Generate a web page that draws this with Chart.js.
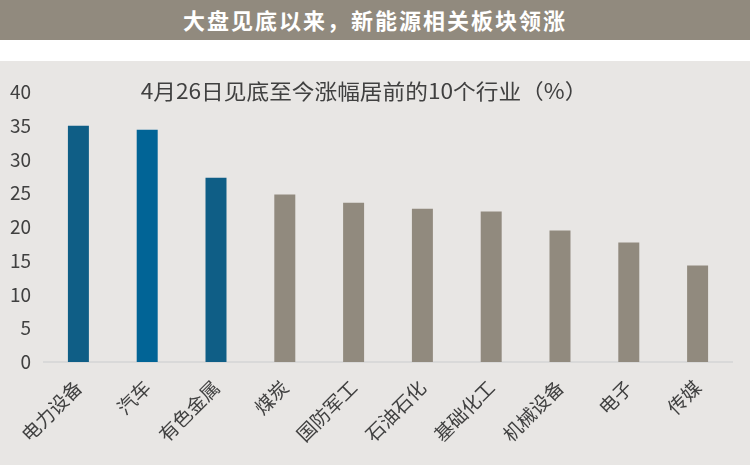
<!DOCTYPE html>
<html>
<head>
<meta charset="utf-8">
<script src="https://cdn.jsdelivr.net/npm/chart.js@4"></script>
<style>
html,body{margin:0;padding:0;background:#fff;width:750px;height:465px;overflow:hidden;}
#hdr{height:40px;background:#918a7e;color:#fff;font-family:"Noto Sans CJK SC",sans-serif;font-size:22px;font-weight:bold;line-height:38px;text-align:center;letter-spacing:2px;}
#gap{height:21px;background:#fff;}
#box{position:relative;width:750px;height:404px;background:#e8e6e4;}
</style>
</head>
<body>
<div id="hdr">大盘见底以来，新能源相关板块领涨</div>
<div id="gap"></div>
<div id="box"><canvas id="c"></canvas></div>
<script>
const chartTitle = '4月26日见底至今涨幅居前的10个行业（%）';
const categories = ['电力设备','汽车','有色金属','煤炭','国防军工','石油石化','基础化工','机械设备','电子','传媒'];
const gains = [35.0, 34.4, 27.3, 24.8, 23.6, 22.7, 22.3, 19.5, 17.7, 14.3];
const barColors = ['#0f5e86','#016496','#0f5e86','#918a7e','#918a7e','#918a7e','#918a7e','#918a7e','#918a7e','#918a7e'];

const FONT = '"Noto Sans CJK SC", sans-serif';

const titlePlugin = {
  id: 'innerTitle',
  afterDraw(chart) {
    const ctx = chart.ctx;
    ctx.save();
    ctx.font = '21px ' + FONT;
    ctx.fillStyle = '#404040';
    ctx.textAlign = 'center';
    ctx.textBaseline = 'middle';
    ctx.translate(364, 30);
    ctx.scale(1.08, 1);
    ctx.fillText(chartTitle, 0, 0);
    ctx.restore();
  }
};

new Chart(document.getElementById('c'), {
  type: 'bar',
  data: {
    labels: categories,
    datasets: [{ data: gains, backgroundColor: barColors, borderWidth: 0, categoryPercentage: 1, barPercentage: 0.305 }]
  },
  options: {
    responsive: true,
    maintainAspectRatio: false,
    animation: false,
    layout: { padding: { top: 31, right: 18, left: 0, bottom: 0 } },
    plugins: { legend: { display: false }, title: { display: false }, tooltip: { enabled: false } },
    scales: {
      x: {
        grid: { display: false, drawTicks: false },
        border: { display: true, color: '#d9d9d9', width: 2 },
        ticks: { color: '#404040', font: { family: FONT, size: 19 }, minRotation: 45, maxRotation: 45, padding: 14, autoSkip: false },
        afterFit(scale) { scale.height = 103; }
      },
      y: {
        min: 0, max: 40,
        grid: { display: false, drawTicks: false },
        border: { display: false },
        ticks: { stepSize: 5, color: '#404040', font: { family: FONT, size: 19 }, padding: 13 },
        afterFit(scale) { scale.width = 44; }
      }
    }
  },
  plugins: [titlePlugin]
});
</script>
</body>
</html>
